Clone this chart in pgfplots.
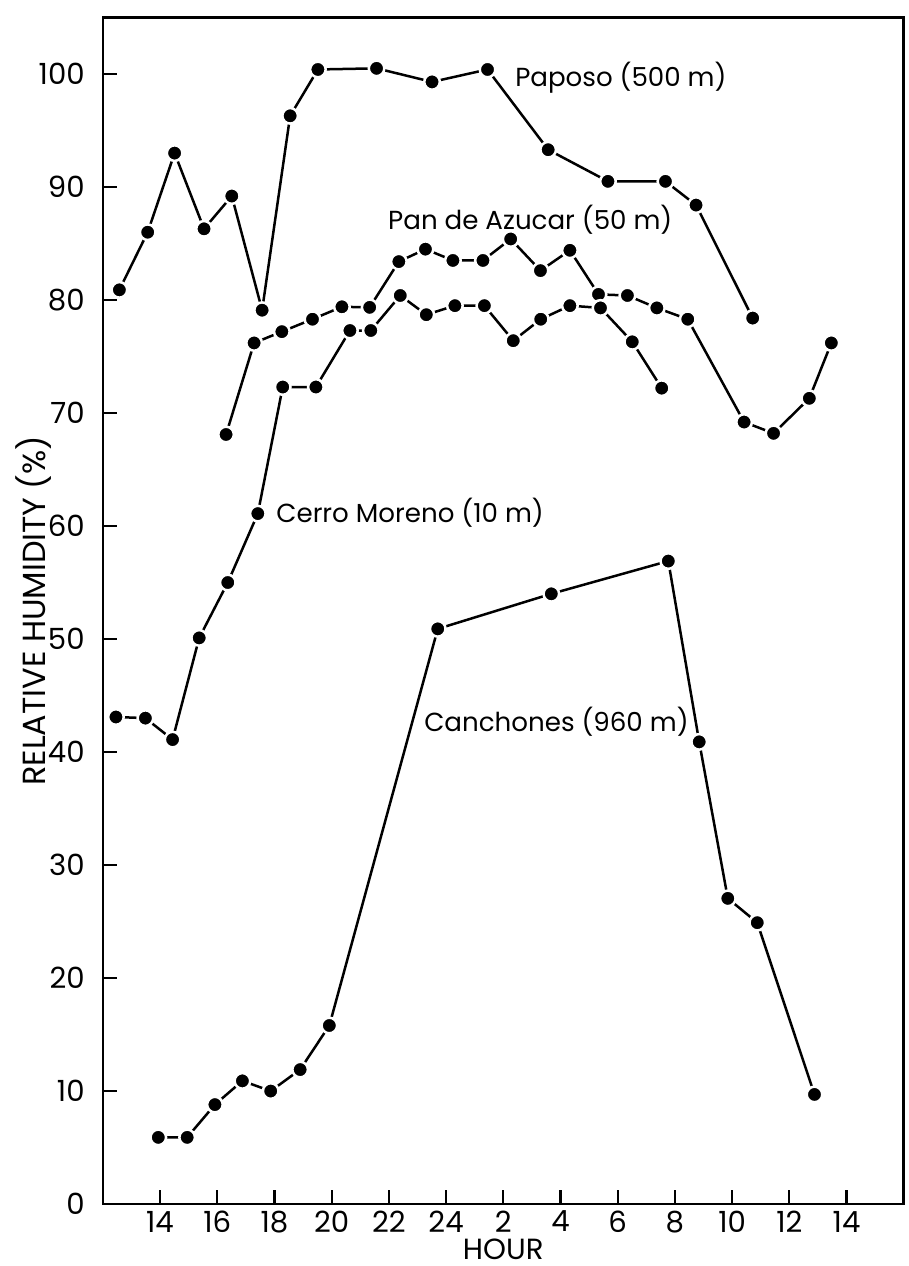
\documentclass[border=0pt]{standalone}
\usepackage{pgfplots}
\pgfplotsset{compat=1.18}
\usepackage{fontspec}
\setmainfont{Poppins}

\pgfplotstableread{
h v
12.58 80.9
13.57 86.0
14.51 93.0
15.54 86.3
16.51 89.2
17.57 79.1
18.55 96.3
19.52 100.4
21.57 100.5
23.51 99.3
25.45 100.4
27.57 93.3
29.66 90.5
31.67 90.5
32.74 88.4
34.72 78.4
}\paposo

\pgfplotstableread{
h v
16.31 68.1
17.29 76.2
18.26 77.2
19.33 78.3
20.36 79.4
21.33 79.35
22.35 83.4
23.28 84.5
24.24 83.5
25.29 83.5
26.26 85.4
27.30 82.6
28.33 84.4
29.33 80.5
30.34 80.4
31.37 79.3
32.45 78.3
34.42 69.2
35.45 68.2
36.70 71.3
37.47 76.2
}\pandeazucar

\pgfplotstableread{
h v
12.46 43.1
13.49 43.0
14.44 41.1
15.37 50.1
16.37 55.0
17.42 61.1
18.29 72.3
19.45 72.3
20.64 77.3
21.37 77.3
22.40 80.4
23.31 78.7
24.31 79.5
25.34 79.5
26.35 76.4
27.31 78.3
28.33 79.5
29.40 79.3
30.51 76.3
31.54 72.2
}\cerromoreno

\pgfplotstableread{
h v
13.94 5.9
14.95 5.9
15.92 8.8
16.88 10.9
17.87 10.0
18.90 11.9
19.92 15.8
23.71 50.9
27.68 54.0
31.77 56.9
32.85 40.9
33.85 27.05
34.88 24.9
36.88 9.7
}\canchones

\pgfplotsset{rhline/.style={black, line width=0.9pt, mark=*, mark size=2.8pt,
     mark options={fill=black, draw=white, line width=0.9pt}}}

\begin{document}
\begin{tikzpicture}
\begin{axis}[
  scale only axis,
  width=288.3pt, height=427.1pt,
  xmin=12, xmax=40, ymin=0, ymax=105,
  xtick={14,16,...,38},
  xticklabels={14,16,18,20,22,24,2,4,6,8,10,12,14},
  ytick={0,10,...,100},
  tick align=inside, xtick pos=bottom, ytick pos=left,
  major tick length=5pt,
  tick style={line width=0.8pt, black},
  axis line style={line width=0.9pt},
  /pgf/number format/assume math mode=true,
  ticklabel style={font=\fontsize{10.5}{12}\selectfont},
  yticklabel style={xshift=-3pt},
  xticklabel style={yshift=1pt},
  xlabel={HOUR}, ylabel={RELATIVE HUMIDITY (\%)},
  label style={font=\fontsize{10.5}{12}\selectfont},
  xlabel style={at={(axis description cs:0.5,0)}, yshift=-16.2pt, anchor=center},
  ylabel style={at={(axis description cs:-0.087,0.5)}, anchor=center, font=\fontsize{11.5}{13}\selectfont},
  clip=false,
]
\addplot[rhline] table[x=h,y=v]{\paposo};
\addplot[rhline] table[x=h,y=v]{\pandeazucar};
\addplot[rhline] table[x=h,y=v]{\cerromoreno};
\addplot[rhline] table[x=h,y=v]{\canchones};

\begin{scope}[every node/.style={anchor=west, inner sep=0pt, font=\fontsize{9.4}{11}\selectfont}]
\node at (axis cs:26.4,99.7) {Paposo (500 m)};
\node at (axis cs:21.96,87.1) {Pan de Azucar (50 m)};
\node at (axis cs:18.05,61.2) {Cerro Moreno (10 m)};
\node at (axis cs:23.22,42.7) {Canchones (960 m)};
\end{scope}
\end{axis}
\pgfresetboundingbox
\path ([shift={(-37pt,-22.3pt)}]current axis.south west) rectangle ([shift={(1.6pt,6.3pt)}]current axis.north east);
\end{tikzpicture}
\end{document}
